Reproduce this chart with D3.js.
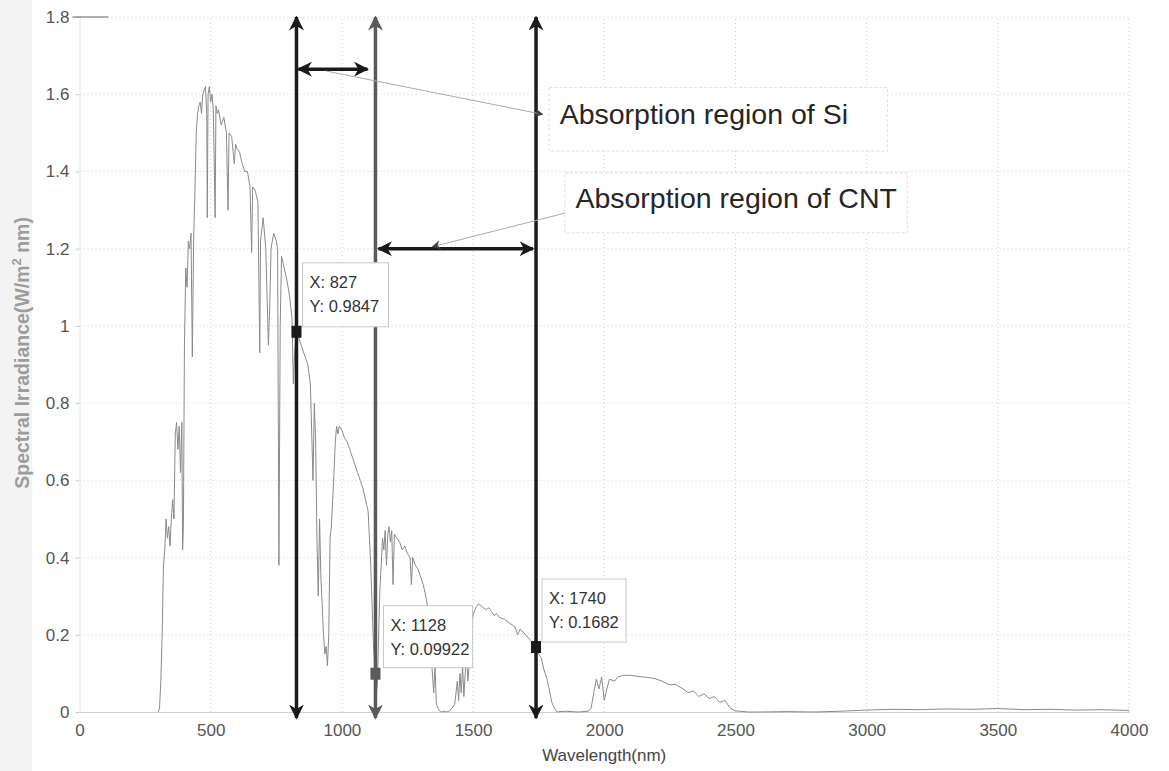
<!DOCTYPE html>
<html>
<head>
<meta charset="utf-8">
<script src="https://cdn.jsdelivr.net/npm/d3@7"></script>
<style>
  body { margin: 0; background: #fff; }
  svg { display: block; font-family: "Liberation Sans", Arial, sans-serif; }
</style>
</head>
<body>
<div id="chart"></div>
<script>
// spectrum (nm, W/m^2 nm)
const wavelength = [300,305,310,315,320,325,330,335,340,345,350,355,360,365,370,375,380,385,390,393,396,400,405,410,415,420,425,430,435,440,445,450,455,460,465,470,475,480,485,487,490,495,500,505,510,517,520,525,530,540,550,560,566,570,580,590,595,600,610,620,630,640,650,656,660,670,680,687,690,700,710,720,725,730,740,750,755,760,765,770,780,790,800,810,815,820,827,835,845,860,870,880,890,895,900,905,910,915,920,930,935,940,945,950,955,960,965,970,975,980,985,990,1000,1010,1020,1030,1040,1050,1060,1070,1080,1090,1100,1105,1110,1115,1120,1125,1128,1132,1136,1140,1145,1150,1155,1160,1165,1170,1175,1180,1185,1190,1195,1200,1210,1220,1230,1240,1250,1260,1265,1270,1280,1290,1300,1310,1320,1330,1340,1350,1355,1360,1370,1380,1390,1400,1410,1420,1430,1440,1445,1450,1455,1460,1465,1470,1475,1480,1485,1490,1495,1500,1510,1520,1530,1540,1550,1560,1570,1580,1590,1600,1620,1640,1660,1670,1680,1700,1720,1740,1750,1760,1770,1780,1790,1800,1810,1820,1850,1900,1940,1950,1960,1970,1980,1990,2000,2010,2020,2040,2050,2070,2100,2130,2160,2190,2220,2250,2270,2300,2320,2340,2360,2380,2400,2420,2440,2460,2480,2500,2550,2600,2700,2800,2900,3000,3100,3200,3300,3400,3500,3600,3700,3800,3900,4000];
const irradiance = [0,0.01,0.08,0.2,0.38,0.42,0.5,0.45,0.48,0.43,0.5,0.55,0.5,0.72,0.75,0.68,0.74,0.62,0.75,0.42,0.48,0.95,1.15,1.1,1.22,1.2,1.24,0.92,1.22,1.35,1.5,1.55,1.57,1.58,1.55,1.6,1.61,1.62,1.55,1.28,1.6,1.62,1.58,1.6,1.56,1.28,1.57,1.55,1.56,1.52,1.54,1.5,1.3,1.5,1.49,1.42,1.47,1.46,1.45,1.42,1.4,1.4,1.36,1.19,1.36,1.35,1.32,0.93,1.22,1.28,1.2,0.95,1.05,1.2,1.24,1.22,1.2,0.38,1.0,1.18,1.15,1.12,1.08,1.02,0.85,0.93,0.9847,0.97,0.95,0.92,0.9,0.85,0.6,0.8,0.7,0.45,0.3,0.5,0.35,0.2,0.15,0.17,0.12,0.2,0.45,0.48,0.55,0.62,0.7,0.74,0.72,0.74,0.73,0.71,0.7,0.68,0.66,0.64,0.62,0.6,0.58,0.55,0.52,0.45,0.38,0.28,0.18,0.12,0.09922,0.05,0.08,0.2,0.32,0.38,0.45,0.42,0.47,0.38,0.46,0.48,0.44,0.47,0.33,0.46,0.45,0.44,0.42,0.43,0.41,0.4,0.33,0.4,0.38,0.37,0.35,0.33,0.3,0.26,0.15,0.05,0.12,0.02,0.005,0,0.002,0,0.003,0.01,0.02,0.08,0.03,0.1,0.05,0.12,0.04,0.1,0.15,0.08,0.12,0.2,0.22,0.25,0.27,0.28,0.275,0.27,0.265,0.27,0.26,0.25,0.255,0.245,0.24,0.23,0.22,0.2,0.215,0.2,0.185,0.1682,0.15,0.14,0.11,0.09,0.06,0.025,0.01,0,0.002,0,0.002,0.01,0.05,0.085,0.06,0.09,0.03,0.06,0.085,0.08,0.09,0.095,0.095,0.092,0.09,0.087,0.08,0.07,0.072,0.06,0.05,0.055,0.04,0.047,0.035,0.04,0.025,0.03,0.01,0.003,0,0,0.001,0,0.002,0.005,0.007,0.006,0.008,0.007,0.009,0.006,0.007,0.005,0.006,0.004];

const xTicks = [0,500,1000,1500,2000,2500,3000,3500,4000];
const yTicks = [0,0.2,0.4,0.6,0.8,1,1.2,1.4,1.6,1.8];

// data cursors
const tipX = [827, 1128, 1740];
const tipY = [0.9847, 0.09922, 0.1682];
const tipColor = ['#1a1a1a', '#5a5a5a', '#1a1a1a'];

const width = 1169, height = 771;
const margin = { top: 17, right: 40, bottom: 59, left: 79.5 };

const svg = d3.select('#chart').append('svg')
  .attr('width', width)
  .attr('height', height);

svg.append('rect').attr('x', 0).attr('y', 0).attr('width', 32).attr('height', height).attr('fill', '#f3f3f3');

const x = d3.scaleLinear().domain([0, 4000]).range([margin.left, width - margin.right]);
const y = d3.scaleLinear().domain([0, 1.8]).range([height - margin.bottom, margin.top]);

const defs = svg.append('defs');
function arrowMarker(id, color, size) {
  defs.append('marker')
    .attr('id', id)
    .attr('viewBox', '0 0 10 10')
    .attr('refX', 9).attr('refY', 5)
    .attr('markerUnits', 'userSpaceOnUse')
    .attr('markerWidth', size).attr('markerHeight', size)
    .attr('orient', 'auto-start-reverse')
    .append('path')
    .attr('d', 'M0,0 L10,5 L0,10 L3,5 Z')
    .attr('fill', color);
}
arrowMarker('headBlack', '#1a1a1a', 15);
arrowMarker('headGray', '#5a5a5a', 15);
arrowMarker('headSmall', '#444', 9);

// grid
svg.append('g').selectAll('line').data(xTicks.slice(1)).enter().append('line')
  .attr('x1', d => x(d)).attr('x2', d => x(d))
  .attr('y1', y(0)).attr('y2', y(1.8))
  .attr('stroke', '#cfcfcf').attr('stroke-dasharray', '1,3');
svg.append('g').selectAll('line').data(yTicks.slice(1)).enter().append('line')
  .attr('x1', x(0)).attr('x2', x(4000))
  .attr('y1', d => y(d)).attr('y2', d => y(d))
  .attr('stroke', '#cfcfcf').attr('stroke-dasharray', '1,3');

// axes
const xAxis = svg.append('g')
  .attr('transform', `translate(0,${y(0)})`)
  .call(d3.axisBottom(x).tickValues(xTicks).tickSize(0).tickPadding(12).tickFormat(d3.format('d')));
xAxis.select('.domain').attr('stroke', '#d0d0d0');
xAxis.selectAll('text').attr('font-size', 17).attr('fill', '#555').attr('font-family', '"Liberation Sans", Arial, sans-serif');

const yAxis = svg.append('g')
  .attr('transform', `translate(${x(0)},0)`)
  .call(d3.axisLeft(y).tickValues(yTicks).tickSize(4).tickPadding(6).tickFormat(d => d3.format('~g')(d)));
yAxis.select('.domain').attr('stroke', '#e6e6e6');
yAxis.selectAll('.tick line').attr('stroke', '#ccc');
yAxis.selectAll('text').attr('font-size', 17).attr('fill', '#555').attr('font-family', '"Liberation Sans", Arial, sans-serif');

svg.append('line')
  .attr('x1', x(0) - 7).attr('x2', x(110))
  .attr('y1', y(1.8)).attr('y2', y(1.8))
  .attr('stroke', '#666').attr('stroke-width', 1.2);

// spectrum
const spectrum = wavelength.map((w, i) => [w, irradiance[i]]);
svg.append('path')
  .datum(spectrum)
  .attr('fill', 'none')
  .attr('stroke', '#8a8a8a')
  .attr('stroke-width', 1)
  .attr('d', d3.line().x(d => x(d[0])).y(d => y(d[1])));

// labels
svg.append('text')
  .attr('x', (x(0) + x(4000)) / 2).attr('y', 761)
  .attr('text-anchor', 'middle')
  .attr('font-size', 17).attr('fill', '#444')
  .text('Wavelength(nm)');

const yl = svg.append('text')
  .attr('transform', `translate(29,${y(0.93)}) rotate(-90)`)
  .attr('text-anchor', 'middle')
  .attr('font-size', 19.5).attr('font-weight', 'bold').attr('fill', '#9c9c9c');
yl.append('tspan').text('Spectral Irradiance(W/m');
yl.append('tspan').attr('font-size', 13).attr('dy', -8).text('2');
yl.append('tspan').attr('dy', 8).text(' nm)');

// vertical double arrows at the cursor wavelengths
tipX.forEach((w, i) => {
  svg.append('line')
    .attr('x1', x(w)).attr('x2', x(w))
    .attr('y1', y(0) + 6).attr('y2', y(1.8))
    .attr('stroke', tipColor[i]).attr('stroke-width', 3.5)
    .attr('marker-start', i === 1 ? 'url(#headGray)' : 'url(#headBlack)')
    .attr('marker-end', i === 1 ? 'url(#headGray)' : 'url(#headBlack)');
});

// horizontal region arrows
svg.append('line')
  .attr('x1', x(tipX[0]) + 2).attr('x2', x(tipX[1]) - 8)
  .attr('y1', y(1.665)).attr('y2', y(1.665))
  .attr('stroke', '#1a1a1a').attr('stroke-width', 3.5)
  .attr('marker-start', 'url(#headBlack)').attr('marker-end', 'url(#headBlack)');
svg.append('line')
  .attr('x1', x(tipX[1]) + 3).attr('x2', x(tipX[2]) - 3)
  .attr('y1', y(1.2)).attr('y2', y(1.2))
  .attr('stroke', '#1a1a1a').attr('stroke-width', 3.5)
  .attr('marker-start', 'url(#headBlack)').attr('marker-end', 'url(#headBlack)');

// annotation pointers
svg.append('line')
  .attr('x1', x(940)).attr('y1', y(1.66))
  .attr('x2', x(1765)).attr('y2', y(1.548))
  .attr('stroke', '#aaa').attr('stroke-width', 1)
  .attr('marker-end', 'url(#headSmall)');
svg.append('line')
  .attr('x1', x(1850)).attr('y1', y(1.292))
  .attr('x2', x(1345)).attr('y2', y(1.205))
  .attr('stroke', '#aaa').attr('stroke-width', 1)
  .attr('marker-end', 'url(#headSmall)');

// annotation text boxes
const notes = [
  { text: 'Absorption region of Si', x0: 1790, x1: 3080, y0: 1.617, y1: 1.453, tx: 1830, ty: 1.523 },
  { text: 'Absorption region of CNT', x0: 1850, x1: 3155, y0: 1.396, y1: 1.241, tx: 1890, ty: 1.305 }
];
notes.forEach(n => {
  svg.append('rect')
    .attr('x', x(n.x0)).attr('y', y(n.y0))
    .attr('width', x(n.x1) - x(n.x0)).attr('height', y(n.y1) - y(n.y0))
    .attr('fill', '#fff').attr('fill-opacity', 0.85)
    .attr('stroke', '#ddd').attr('stroke-dasharray', '3,2');
  svg.append('text')
    .attr('x', x(n.tx)).attr('y', y(n.ty))
    .attr('font-size', 28.5).attr('fill', '#262626')
    .text(n.text);
});

// data tips
const tipBox = [
  { dx: 6, dy: -69, w: 86, h: 64 },
  { dx: 8, dy: -68, w: 89, h: 62 },
  { dx: 6, dy: -68, w: 84, h: 63 }
];
tipX.forEach((w, i) => {
  const px = x(w), py = y(tipY[i]);
  const b = tipBox[i];
  svg.append('rect')
    .attr('x', px + b.dx).attr('y', py + b.dy)
    .attr('width', b.w).attr('height', b.h)
    .attr('fill', '#fff').attr('stroke', '#c8c8c8');
  svg.append('text')
    .attr('x', px + b.dx + 7).attr('y', py + b.dy + 25)
    .attr('font-size', 16.5).attr('fill', '#333')
    .text('X: ' + w);
  svg.append('text')
    .attr('x', px + b.dx + 7).attr('y', py + b.dy + 49)
    .attr('font-size', 16.5).attr('fill', '#333')
    .text('Y: ' + tipY[i]);
  svg.append('rect')
    .attr('x', px - 5).attr('y', py - 6)
    .attr('width', 10).attr('height', 12)
    .attr('fill', tipColor[i]);
});
</script>
</body>
</html>
